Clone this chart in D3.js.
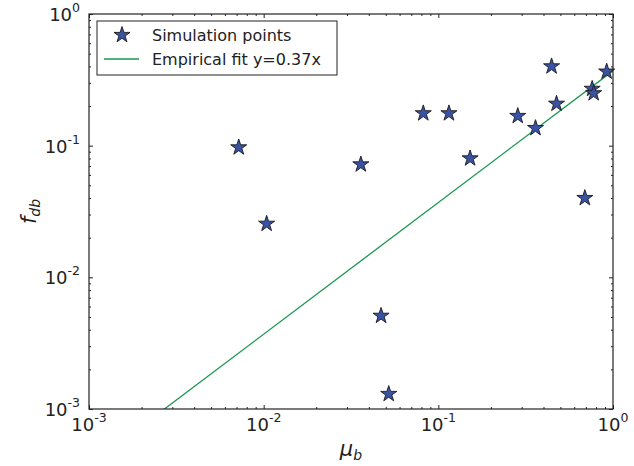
<!DOCTYPE html>
<html>
<head>
<meta charset="utf-8">
<script src="https://cdn.jsdelivr.net/npm/d3@7"></script>
<style>
  body { margin: 0; background: #fff; }
  svg { display: block; font-family: 'DejaVu Sans', sans-serif; }
</style>
</head>
<body>
<div id="chart"></div>
<script>
// data
const simMu = [0.0072, 0.0104, 0.036, 0.082, 0.115, 0.152, 0.047, 0.052,
  0.285, 0.36, 0.445, 0.475, 0.76, 0.775, 0.92, 0.69];
const simF = [0.097, 0.0255, 0.072, 0.176, 0.176, 0.080, 0.0051, 0.0013,
  0.168, 0.136, 0.40, 0.208, 0.27, 0.25, 0.365, 0.040];
const fitSlope = 0.37;
const xDecades = [1e-3, 1e-2, 1e-1, 1];
const yDecades = [1e-3, 1e-2, 1e-1, 1];
const xExp = ['-3', '-2', '-1', '0'];
const yExp = ['-3', '-2', '-1', '0'];

const width = 634, height = 466;
const margin = { top: 14, right: 21, bottom: 57, left: 89 };
const w = width - margin.left - margin.right;
const h = height - margin.top - margin.bottom;

const svg = d3.select('#chart').append('svg')
  .attr('width', width)
  .attr('height', height);

const g = svg.append('g')
  .attr('transform', `translate(${margin.left},${margin.top})`);

const x = d3.scaleLog().domain([1e-3, 1]).range([0, w]);
const y = d3.scaleLog().domain([1e-3, 1]).range([h, 0]);

// minor tick values 2..9 per decade
const minors = d => d.slice(0, -1).flatMap(v => d3.range(2, 10).map(k => k * v));

// clip for the fit line
svg.append('defs').append('clipPath').attr('id', 'clip')
  .append('rect').attr('width', w).attr('height', h);

// fit line
const fitX = [1e-3, 1];
g.append('path')
  .attr('clip-path', 'url(#clip)')
  .attr('d', d3.line().x(d => x(d)).y(d => y(fitSlope * d))(fitX))
  .attr('fill', 'none')
  .attr('stroke', '#1a9850')
  .attr('stroke-width', 1.3);

// stars
const star = d3.symbol().type(d3.symbolStar).size(80);
g.selectAll('.pt')
  .data(simMu.map((m, i) => [m, simF[i]]))
  .join('path')
  .attr('class', 'pt')
  .attr('d', star)
  .attr('transform', d => `translate(${x(d[0])},${y(d[1])})`)
  .attr('fill', '#3953a4')
  .attr('stroke', '#1a1a1a')
  .attr('stroke-width', 0.9);

// axes with inward ticks on all four sides
const axisStyle = sel => {
  sel.select('.domain').remove();
  sel.selectAll('line').attr('stroke', '#222').attr('stroke-width', 1);
};
const addAxis = (gen, tx, ty, vals, size) => {
  g.append('g')
    .attr('transform', `translate(${tx},${ty})`)
    .call(gen.tickValues(vals).tickSize(size).tickFormat(''))
    .call(axisStyle);
};
addAxis(d3.axisBottom(x), 0, h, xDecades, -4);
addAxis(d3.axisBottom(x), 0, h, minors(xDecades), -2);
addAxis(d3.axisTop(x), 0, 0, xDecades, -4);
addAxis(d3.axisTop(x), 0, 0, minors(xDecades), -2);
addAxis(d3.axisLeft(y), 0, 0, yDecades, -4);
addAxis(d3.axisLeft(y), 0, 0, minors(yDecades), -2);
addAxis(d3.axisRight(y), w, 0, yDecades, -4);
addAxis(d3.axisRight(y), w, 0, minors(yDecades), -2);

// frame
g.append('rect')
  .attr('width', w).attr('height', h)
  .attr('fill', 'none')
  .attr('stroke', '#222')
  .attr('stroke-width', 1.2);

// tick labels as 10^n
const xLab = g.append('g').selectAll('text')
  .data(xDecades)
  .join('text')
  .attr('x', d => x(d))
  .attr('y', h + 22)
  .attr('text-anchor', 'middle')
  .attr('font-size', 18)
  .attr('fill', '#222');
xLab.append('tspan').text('10');
xLab.append('tspan').attr('dy', -9).attr('font-size', 12.5).text((d, i) => xExp[i]);

const yLab = g.append('g').selectAll('text')
  .data(yDecades)
  .join('text')
  .attr('x', -9)
  .attr('y', d => y(d) + 7)
  .attr('text-anchor', 'end')
  .attr('font-size', 18)
  .attr('fill', '#222');
yLab.append('tspan').text('10');
yLab.append('tspan').attr('dy', -9).attr('font-size', 12.5).text((d, i) => yExp[i]);

// axis titles
const xTitle = svg.append('text')
  .attr('x', margin.left + w / 2)
  .attr('y', 456)
  .attr('text-anchor', 'middle')
  .attr('font-size', 21)
  .attr('font-style', 'italic')
  .attr('fill', '#222');
xTitle.append('tspan').text('μ');
xTitle.append('tspan').attr('dy', 4).attr('font-size', 14).text('b');

const yTitle = svg.append('text')
  .attr('transform', `translate(36,${margin.top + h / 2}) rotate(-90)`)
  .attr('text-anchor', 'middle')
  .attr('font-size', 21)
  .attr('font-style', 'italic')
  .attr('fill', '#222');
yTitle.append('tspan').text('f');
yTitle.append('tspan').attr('dy', 4).attr('font-size', 14).text('db');

// legend
const leg = svg.append('g').attr('transform', 'translate(97,21)');
leg.append('rect')
  .attr('width', 240).attr('height', 54)
  .attr('fill', '#fff')
  .attr('stroke', '#222')
  .attr('stroke-width', 1);
leg.append('path')
  .attr('d', star)
  .attr('transform', 'translate(25,14)')
  .attr('fill', '#3953a4')
  .attr('stroke', '#1a1a1a')
  .attr('stroke-width', 0.9);
leg.append('line')
  .attr('x1', 7).attr('x2', 42)
  .attr('y1', 38).attr('y2', 38)
  .attr('stroke', '#1a9850')
  .attr('stroke-width', 1.3);
leg.append('text')
  .attr('x', 55).attr('y', 20)
  .attr('font-size', 16)
  .attr('fill', '#222')
  .text('Simulation points');
leg.append('text')
  .attr('x', 55).attr('y', 44)
  .attr('font-size', 16)
  .attr('fill', '#222')
  .text('Empirical fit y=0.37x');
</script>
</body>
</html>
